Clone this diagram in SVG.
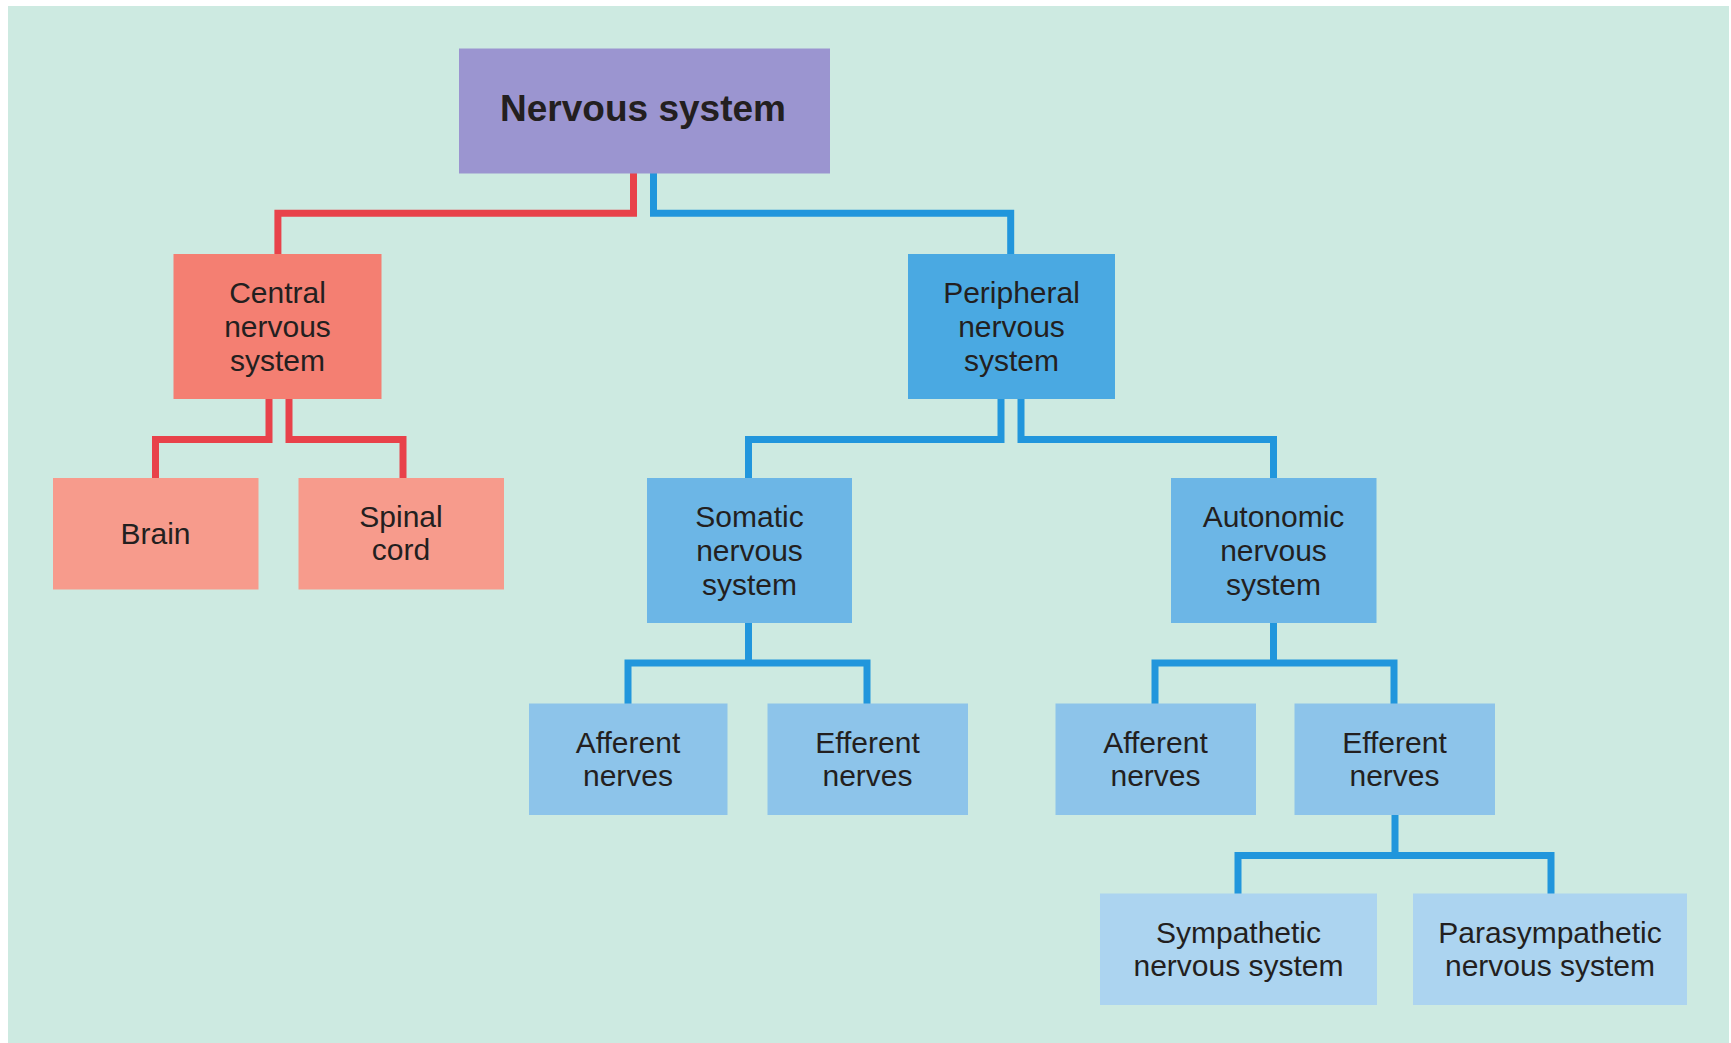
<svg xmlns="http://www.w3.org/2000/svg" width="1731" height="1043" viewBox="0 0 1731 1043">
<style>
.t{font-family:"Liberation Sans",Arial,sans-serif;font-size:30px;fill:#231f20;text-anchor:middle}
.tb{font-family:"Liberation Sans",Arial,sans-serif;font-size:37px;font-weight:bold;fill:#231f20;text-anchor:middle}
.red{fill:none;stroke:#e8424a;stroke-width:7;stroke-linejoin:miter}
.blue{fill:none;stroke:#2196dc;stroke-width:7;stroke-linejoin:miter}
.c0{fill:#9b95d0}
.c1{fill:#f47f72}
.c2{fill:#f79b8c}
.c3{fill:#4aa9e2}
.c4{fill:#6cb6e6}
.c5{fill:#8dc4ea}
.c6{fill:#acd4f0}
</style>
<rect x="0" y="0" width="1731" height="1043" fill="#ffffff"/>
<rect x="8" y="6" width="1721" height="1037" fill="#cdeae1"/>
<g id="connectors">
<polyline class="red" points="633.5,173 633.5,213.3 277.9,213.3 277.9,254.5"/>
<polyline class="blue" points="653.5,173 653.5,213.3 1010.7,213.3 1010.7,254.5"/>
<polyline class="red" points="269,399 269,439.5 155.5,439.5 155.5,478.5"/>
<polyline class="red" points="289,399 289,439.5 403,439.5 403,478.5"/>
<polyline class="blue" points="1001,399 1001,439.5 748.5,439.5 748.5,478.5"/>
<polyline class="blue" points="1021,399 1021,439.5 1273.5,439.5 1273.5,478.5"/>
<path class="blue" d="M748.5,622.5 V663 M628,704 V663 H867 V704"/>
<path class="blue" d="M1273.5,622.5 V663 M1155,704 V663 H1394 V704"/>
<path class="blue" d="M1395,814.5 V855.5 M1238,894 V855.5 H1551 V894"/>
</g>
<g id="nervous-system">
<rect class="c0" x="459" y="48.5" width="371" height="125"/>
<text class="tb" x="643" y="121">Nervous system</text>
</g>
<g id="central">
<rect class="c1" x="173.5" y="254" width="208" height="145"/>
<text class="t" x="277.5" y="302.5">Central</text>
<text class="t" x="277.5" y="336.5">nervous</text>
<text class="t" x="277.5" y="370.5">system</text>
</g>
<g id="peripheral">
<rect class="c3" x="908" y="254" width="207" height="145"/>
<text class="t" x="1011.5" y="302.5">Peripheral</text>
<text class="t" x="1011.5" y="336.5">nervous</text>
<text class="t" x="1011.5" y="370.5">system</text>
</g>
<g id="brain">
<rect class="c2" x="53" y="478" width="205.5" height="111.5"/>
<text class="t" x="155.5" y="544.3">Brain</text>
</g>
<g id="spinal-cord">
<rect class="c2" x="298.5" y="478" width="205.5" height="111.5"/>
<text class="t" x="401" y="526.5">Spinal</text>
<text class="t" x="401" y="560">cord</text>
</g>
<g id="somatic">
<rect class="c4" x="647" y="478" width="205" height="145"/>
<text class="t" x="749.5" y="526.5">Somatic</text>
<text class="t" x="749.5" y="560.5">nervous</text>
<text class="t" x="749.5" y="594.5">system</text>
</g>
<g id="autonomic">
<rect class="c4" x="1171" y="478" width="205.5" height="145"/>
<text class="t" x="1273.5" y="526.5">Autonomic</text>
<text class="t" x="1273.5" y="560.5">nervous</text>
<text class="t" x="1273.5" y="594.5">system</text>
</g>
<g id="somatic-afferent">
<rect class="c5" x="529" y="703.5" width="198.5" height="111.5"/>
<text class="t" x="628" y="752.5">Afferent</text>
<text class="t" x="628" y="786">nerves</text>
</g>
<g id="somatic-efferent">
<rect class="c5" x="767.5" y="703.5" width="200.5" height="111.5"/>
<text class="t" x="867.5" y="752.5">Efferent</text>
<text class="t" x="867.5" y="786">nerves</text>
</g>
<g id="autonomic-afferent">
<rect class="c5" x="1055.5" y="703.5" width="200.5" height="111.5"/>
<text class="t" x="1155.5" y="752.5">Afferent</text>
<text class="t" x="1155.5" y="786">nerves</text>
</g>
<g id="autonomic-efferent">
<rect class="c5" x="1294.5" y="703.5" width="200.5" height="111.5"/>
<text class="t" x="1394.5" y="752.5">Efferent</text>
<text class="t" x="1394.5" y="786">nerves</text>
</g>
<g id="sympathetic">
<rect class="c6" x="1100" y="893.5" width="277" height="111.5"/>
<text class="t" x="1238.5" y="942.5">Sympathetic</text>
<text class="t" x="1238.5" y="975.5">nervous system</text>
</g>
<g id="parasympathetic">
<rect class="c6" x="1413" y="893.5" width="274" height="111.5"/>
<text class="t" x="1550" y="942.5">Parasympathetic</text>
<text class="t" x="1550" y="975.5">nervous system</text>
</g>
</svg>
